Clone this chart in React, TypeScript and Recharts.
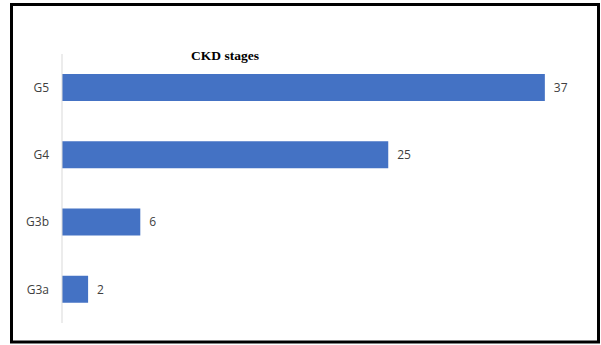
import React from 'react';
import { BarChart, Bar, XAxis, YAxis, LabelList } from 'recharts';

const stages = ['G5', 'G4', 'G3b', 'G3a'];
const counts = [37, 25, 6, 2];
const chartTitle = 'CKD stages';

const data = stages.map((stage, i) => ({ stage, count: counts[i] }));

const W = 601;
const H = 345;
const labelFont = 'Open Sans, sans-serif';

export default function App() {
  return (
    <div style={{ position: 'absolute', left: 0, top: 0, width: W, height: H, background: '#fff' }}>
      <BarChart
        width={W}
        height={H}
        data={data}
        layout="vertical"
        margin={{ top: 54, right: 17, bottom: 22, left: 10 }}
        barCategoryGap="30%"
      >
        <XAxis type="number" domain={[0, 40]} hide />
        <YAxis
          type="category"
          dataKey="stage"
          width={52}
          tickLine={false}
          tickSize={0}
          tickMargin={13}
          axisLine={{ stroke: '#d9d9d9', strokeWidth: 1 }}
          tick={{ fill: '#404040', fontSize: 12, fontFamily: labelFont }}
        />
        <Bar dataKey="count" fill="#4472c4" barSize={27} isAnimationActive={false}>
          <LabelList
            dataKey="count"
            position="right"
            offset={9}
            fill="#404040"
            fontSize={12}
            fontFamily={labelFont}
          />
        </Bar>
      </BarChart>
      <svg width={W} height={H} style={{ position: 'absolute', left: 0, top: 0, pointerEvents: 'none' }}>
        <text
          x={225}
          y={60}
          textAnchor="middle"
          fontFamily="Liberation Serif, serif"
          fontWeight="bold"
          fontSize={13.5}
          fill="#000"
        >
          {chartTitle}
        </text>
        <rect x={11.5} y={4.5} width={587} height={337.5} fill="none" stroke="#000" strokeWidth={3} />
      </svg>
    </div>
  );
}
